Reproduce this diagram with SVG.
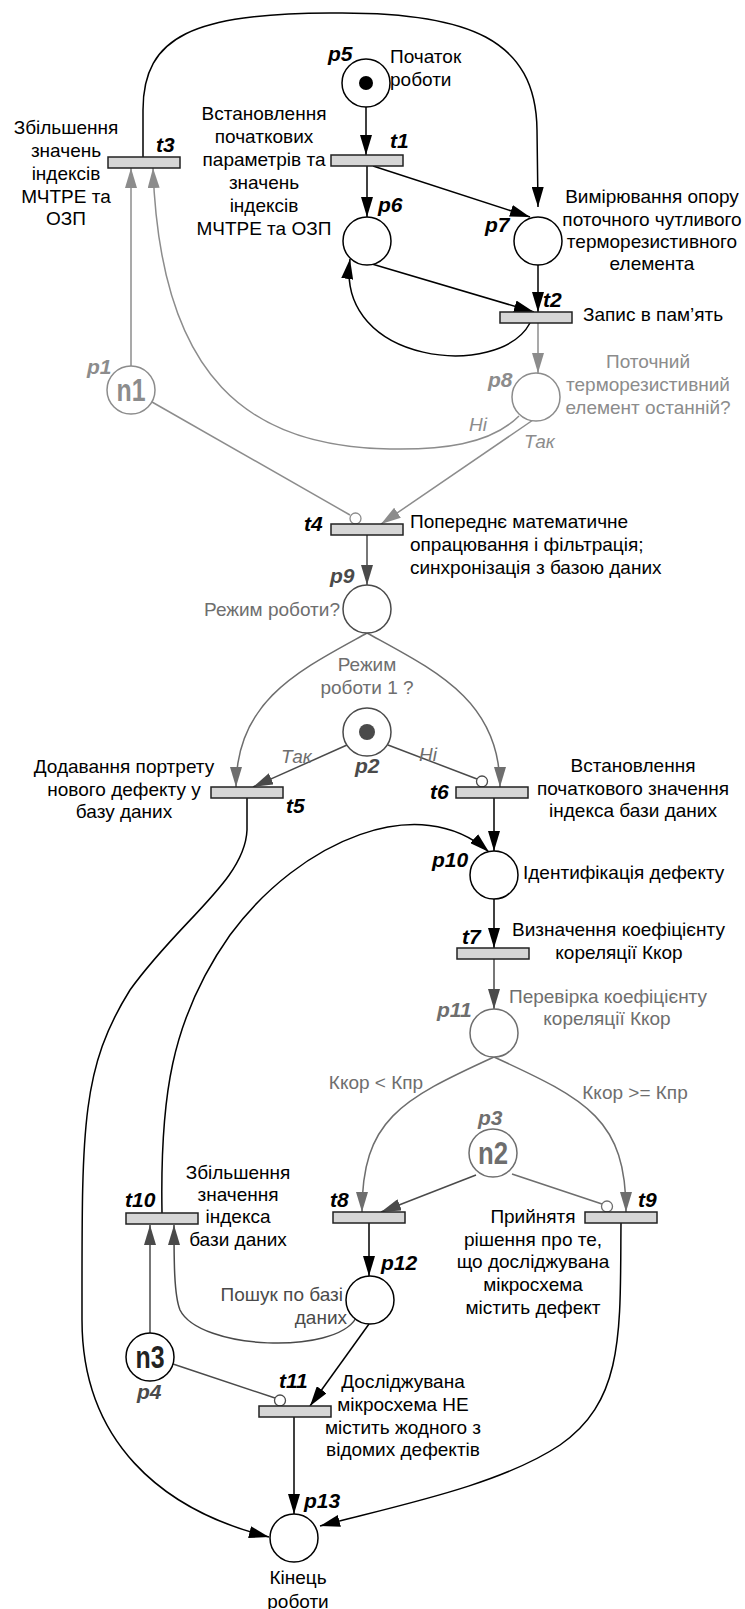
<svg xmlns="http://www.w3.org/2000/svg" width="745" height="1609" viewBox="0 0 745 1609">
<defs>
<style>
.t{font-family:"Liberation Sans",Arial,sans-serif;font-size:19px;fill:#000}
.m{text-anchor:middle}
.e{text-anchor:end}
.l{font-family:"Liberation Sans",Arial,sans-serif;font-size:21px;font-weight:bold;font-style:italic;fill:#000}
.it{font-style:italic}
.n{font-family:"Liberation Sans",Arial,sans-serif;font-size:31px;font-weight:bold;text-anchor:middle}
.cg{fill:#8c8c8c}
.cm{fill:#6e6e6e}
.cd{fill:#4a4a4a}
.pl{fill:#fff;stroke-width:1.5}
.tr{fill:#d6d6d6;stroke:#222;stroke-width:1.5}
.inh{fill:#fff;stroke-width:1.3}
.a{fill:none;stroke-width:1.5}
.k{stroke:#000}
.g{stroke:#8c8c8c}
.md{stroke:#6e6e6e}
.d{stroke:#4a4a4a}
</style>
<marker id="ak" markerUnits="userSpaceOnUse" markerWidth="20" markerHeight="12" refX="20" refY="6" orient="auto"><path d="M0,0 L20,6 L0,12 z" fill="#000"/></marker>
<marker id="ag" markerUnits="userSpaceOnUse" markerWidth="20" markerHeight="12" refX="20" refY="6" orient="auto"><path d="M0,0 L20,6 L0,12 z" fill="#8c8c8c"/></marker>
<marker id="am" markerUnits="userSpaceOnUse" markerWidth="20" markerHeight="12" refX="20" refY="6" orient="auto"><path d="M0,0 L20,6 L0,12 z" fill="#6e6e6e"/></marker>
<marker id="ad" markerUnits="userSpaceOnUse" markerWidth="20" markerHeight="12" refX="20" refY="6" orient="auto"><path d="M0,0 L20,6 L0,12 z" fill="#4a4a4a"/></marker>
</defs>

<g id="connectors">
<path class="a k" d="M143 157 L143 110 C143 35 195 14 330 13 C470 11 536 40 537 130 L538 207" marker-end="url(#ak)"/>
<path class="a k" d="M366 107 L366 155" marker-end="url(#ak)"/>
<path class="a k" d="M367 166 L367 217" marker-end="url(#ak)"/>
<path class="a k" d="M373 166 L530 217" marker-end="url(#ak)"/>
<path class="a k" d="M538 265 L538 312" marker-end="url(#ak)"/>
<path class="a k" d="M372 264 L534 312" marker-end="url(#ak)"/>
<path class="a k" d="M530 323 C500 380 335 365 350 259" marker-end="url(#ak)"/>
<path class="a g" d="M538 323 L538 373" marker-end="url(#ag)"/>
<path class="a g" d="M533 420 L381 524" marker-end="url(#ag)"/>
<path class="a g" d="M152 402 L350 515"/>
<path class="a g" d="M131 366 L131 168" marker-end="url(#ag)"/>
<path class="a g" d="M519 416 C490 445 440 450 390 449 C250 447 160 380 153 168" marker-end="url(#ag)"/>
<path class="a d" d="M367 535 L367 585" marker-end="url(#ad)"/>
<path class="a md" d="M367 633 C300 670 236 700 236 787" marker-end="url(#am)"/>
<path class="a md" d="M367 633 C434 670 500 700 500 787" marker-end="url(#am)"/>
<path class="a d" d="M347 745 L253 787" marker-end="url(#ad)"/>
<path class="a d" d="M388 745 L477 779"/>
<path class="a k" d="M247 798 L247 830 C245 880 180 920 130 990 C80 1070 82 1130 82 1320 C82 1440 160 1510 269 1537" marker-end="url(#ak)"/>
<path class="a k" d="M494 798 L494 851" marker-end="url(#ak)"/>
<path class="a k" d="M162 1213 C160 1100 170 1020 230 935 C300 840 420 790 489 852" marker-end="url(#ak)"/>
<path class="a k" d="M494 899 L494 948" marker-end="url(#ak)"/>
<path class="a d" d="M494 959 L494 1009" marker-end="url(#ad)"/>
<path class="a md" d="M494 1057 C400 1100 362 1120 362 1212" marker-end="url(#am)"/>
<path class="a md" d="M494 1057 C588 1100 626 1120 626 1212" marker-end="url(#am)"/>
<path class="a d" d="M476 1175 L381 1212" marker-end="url(#ad)"/>
<path class="a md" d="M512 1174 L602 1204"/>
<path class="a k" d="M369 1223 L369 1276" marker-end="url(#ak)"/>
<path class="a d" d="M356 1318 C335 1355 200 1350 180 1310 C174 1295 174 1260 174 1225" marker-end="url(#ad)"/>
<path class="a d" d="M150 1333 L150 1225" marker-end="url(#ad)"/>
<path class="a d" d="M173 1364 L275 1398"/>
<path class="a k" d="M369 1324 L310 1406" marker-end="url(#ak)"/>
<path class="a k" d="M294 1417 L294 1514" marker-end="url(#ak)"/>
<path class="a k" d="M621 1223 C620 1330 625 1400 560 1445 C500 1485 400 1505 320 1526" marker-end="url(#ak)"/>
<circle class="inh g" cx="355.5" cy="518.5" r="5.5"/>
<circle class="inh d" cx="482" cy="781.5" r="5.5"/>
<circle class="inh md" cx="607" cy="1206.5" r="5.5"/>
<circle class="inh d" cx="280" cy="1400.5" r="5.5"/>
</g>

<g id="p5"><circle class="pl k" cx="366" cy="83" r="24"/><circle cx="366" cy="83" r="7" fill="#000"/><text class="l" x="328" y="61">p5</text><text class="t" x="390" y="63">Початок</text><text class="t" x="390" y="86">роботи</text></g>
<g id="t1"><rect class="tr" x="331" y="155" width="72" height="11"/><text class="l" x="390" y="148">t1</text>
<text class="t m" x="264" y="120">Встановлення</text><text class="t m" x="264" y="143">початкових</text><text class="t m" x="264" y="166">параметрів та</text><text class="t m" x="264" y="189">значень</text><text class="t m" x="264" y="212">індексів</text><text class="t m" x="264" y="235">МЧТРЕ та ОЗП</text></g>
<g id="t3"><rect class="tr" x="108" y="157" width="72" height="11"/><text class="l" x="156" y="152">t3</text>
<text class="t m" x="66" y="134">Збільшення</text><text class="t m" x="66" y="157">значень</text><text class="t m" x="66" y="180">індексів</text><text class="t m" x="66" y="203">МЧТРЕ та</text><text class="t m" x="66" y="225">ОЗП</text></g>
<g id="p6"><circle class="pl k" cx="367" cy="241" r="24"/><text class="l" x="378" y="212">p6</text></g>
<g id="p7"><circle class="pl k" cx="538" cy="241" r="24"/><text class="l" x="485" y="232">p7</text>
<text class="t m" x="652" y="203">Вимірювання опору</text><text class="t m" x="652" y="226">поточного чутливого</text><text class="t m" x="652" y="248">терморезистивного</text><text class="t m" x="652" y="270">елемента</text></g>
<g id="t2"><rect class="tr" x="500" y="312" width="72" height="11"/><text class="l" x="543" y="307">t2</text><text class="t" x="583" y="321">Запис в пам’ять</text></g>
<g id="p8"><circle class="pl g" cx="536" cy="397" r="24"/><text class="l cg" x="488" y="387">p8</text>
<text class="t m cg" x="648" y="368">Поточний</text><text class="t m cg" x="648" y="391">терморезистивний</text><text class="t m cg" x="648" y="414">елемент останній?</text>
<text class="t it cg" x="469" y="431">Ні</text><text class="t it cg" x="524" y="448">Так</text></g>
<g id="p1"><circle class="pl g" cx="131" cy="390" r="24"/><text class="n cg" x="131" y="401" textLength="29" lengthAdjust="spacingAndGlyphs">n1</text><text class="l cg" x="87" y="374">p1</text></g>
<g id="t4"><rect class="tr" x="331" y="524" width="72" height="11"/><text class="l" x="304" y="531">t4</text>
<text class="t" x="410" y="528">Попереднє математичне</text><text class="t" x="410" y="551">опрацювання і фільтрація;</text><text class="t" x="410" y="574">синхронізація з базою даних</text></g>
<g id="p9"><circle class="pl d" cx="367" cy="609" r="24"/><text class="l cd" x="330" y="583">p9</text><text class="t e cm" x="340" y="616">Режим роботи?</text>
<text class="t m cm" x="367" y="671">Режим</text><text class="t m cm" x="367" y="694">роботи 1 ?</text></g>
<g id="p2"><circle class="pl d" cx="367" cy="732" r="24"/><circle cx="367" cy="732" r="8" fill="#4a4a4a"/><text class="l cd" x="355" y="773">p2</text>
<text class="t it cm" x="281" y="763">Так</text><text class="t it cm" x="419" y="761">Ні</text></g>
<g id="t5"><rect class="tr" x="211" y="787" width="72" height="11"/><text class="l" x="286" y="813">t5</text>
<text class="t m" x="124" y="773">Додавання портрету</text><text class="t m" x="124" y="796">нового дефекту у</text><text class="t m" x="124" y="818">базу даних</text></g>
<g id="t6"><rect class="tr" x="456" y="787" width="72" height="11"/><text class="l" x="430" y="799">t6</text>
<text class="t m" x="633" y="772">Встановлення</text><text class="t m" x="633" y="795">початкового значення</text><text class="t m" x="633" y="817">індекса бази даних</text></g>
<g id="p10"><circle class="pl k" cx="494" cy="875" r="24"/><text class="l" x="432" y="867">p10</text><text class="t" x="523" y="879">Ідентифікація дефекту</text></g>
<g id="t7"><rect class="tr" x="457" y="948" width="72" height="11"/><text class="l" x="462" y="944">t7</text>
<text class="t" x="512" y="936">Визначення коефіцієнту</text><text class="t m" x="619" y="959">кореляції Ккор</text></g>
<g id="p11"><circle class="pl md" cx="494" cy="1033" r="24"/><text class="l cm" x="437" y="1017">p11</text>
<text class="t cm" x="509" y="1003">Перевірка коефіцієнту</text><text class="t m cm" x="607" y="1025">кореляції Ккор</text>
<text class="t m cm" x="376" y="1089">Ккор &lt; Кпр</text><text class="t m cm" x="635" y="1099">Ккор &gt;= Кпр</text></g>
<g id="p3"><circle class="pl md" cx="493" cy="1153" r="24"/><text class="n cm" x="493" y="1164" textLength="30" lengthAdjust="spacingAndGlyphs">n2</text><text class="l cm" x="478" y="1125">p3</text></g>
<g id="t8"><rect class="tr" x="333" y="1212" width="72" height="11"/><text class="l" x="330" y="1207">t8</text></g>
<g id="t9"><rect class="tr" x="585" y="1212" width="72" height="11"/><text class="l" x="638" y="1207">t9</text>
<text class="t m" x="533" y="1223">Прийнятя</text><text class="t m" x="533" y="1246">рішення про те,</text><text class="t m" x="533" y="1268">що досліджувана</text><text class="t m" x="533" y="1291">мікросхема</text><text class="t m" x="533" y="1314">містить дефект</text></g>
<g id="t10"><rect class="tr" x="126" y="1213" width="72" height="11"/><text class="l" x="125" y="1207">t10</text>
<text class="t m" x="238" y="1179">Збільшення</text><text class="t m" x="238" y="1201">значення</text><text class="t m" x="238" y="1223">індекса</text><text class="t m" x="238" y="1246">бази даних</text></g>
<g id="p12"><circle class="pl k" cx="370" cy="1300" r="24"/><text class="l" x="381" y="1270">p12</text>
<text class="t e cd" x="343" y="1301">Пошук по базі</text><text class="t e cd" x="347" y="1324">даних</text></g>
<g id="p4"><circle class="pl k" cx="150" cy="1357" r="24"/><text class="n" x="150" y="1368" fill="#222" textLength="29" lengthAdjust="spacingAndGlyphs">n3</text><text class="l cd" x="137" y="1399">p4</text></g>
<g id="t11"><rect class="tr" x="259" y="1406" width="72" height="11"/><text class="l" x="279" y="1388">t11</text>
<text class="t m" x="403" y="1388">Досліджувана</text><text class="t m" x="403" y="1411">мікросхема НЕ</text><text class="t m" x="403" y="1434">містить жодного з</text><text class="t m" x="403" y="1456">відомих дефектів</text></g>
<g id="p13"><circle class="pl k" cx="294" cy="1538" r="24"/><text class="l" x="304" y="1508">p13</text>
<text class="t m" x="298" y="1584">Кінець</text><text class="t m" x="298" y="1608">роботи</text></g>
</svg>
